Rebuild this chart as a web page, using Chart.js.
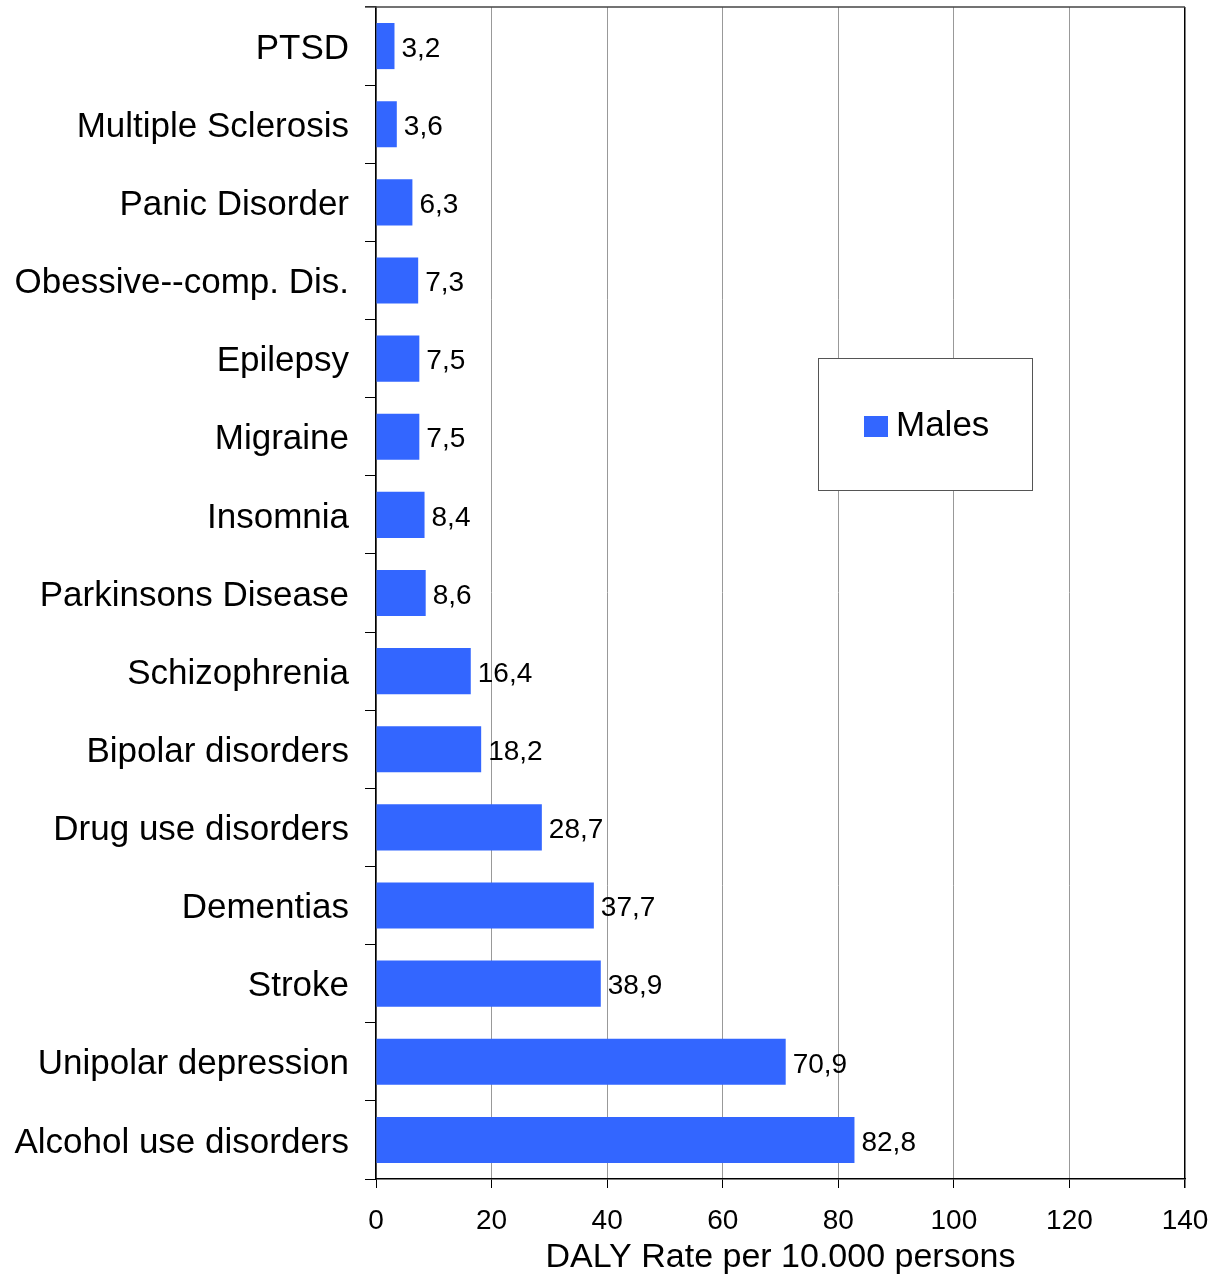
<!DOCTYPE html>
<html lang="en">
<head>
    <meta charset="UTF-8">
    <title>DALY Rate - Males</title>
    <script src="https://cdn.jsdelivr.net/npm/chart.js"></script>
    <style>
        body {
            margin: 0;
            background: #ffffff;
        }

        .chart-box {
            width: 1212px;
            height: 1278px;
        }
    </style>
</head>
<body>
    <div class="chart-box">
        <canvas id="dalyChart" width="1212" height="1278"></canvas>
    </div>

    <script>
        // data, top to bottom
        const diseases = [
            'PTSD', 'Multiple Sclerosis', 'Panic Disorder', 'Obessive--comp. Dis.', 'Epilepsy',
            'Migraine', 'Insomnia', 'Parkinsons Disease', 'Schizophrenia', 'Bipolar disorders',
            'Drug use disorders', 'Dementias', 'Stroke', 'Unipolar depression', 'Alcohol use disorders'
        ];
        const malesRate = [3.2, 3.6, 6.3, 7.3, 7.5, 7.5, 8.4, 8.6, 16.4, 18.2, 28.7, 37.7, 38.9, 70.9, 82.8];
        const xTicks = [0, 20, 40, 60, 80, 100, 120, 140];

        const barColor = '#3366ff';
        const fontFamily = '"Liberation Sans", Arial, sans-serif';

        // value labels like "3,2" at the end of every bar
        const valueLabels = {
            id: 'valueLabels',
            afterDatasetsDraw(chart) {
                const ctx = chart.ctx;
                const meta = chart.getDatasetMeta(0);
                ctx.save();
                ctx.font = '28px ' + fontFamily;
                ctx.fillStyle = '#000';
                ctx.textBaseline = 'middle';
                ctx.textAlign = 'left';
                meta.data.forEach((bar, i) => {
                    const txt = malesRate[i].toFixed(1).replace('.', ',');
                    ctx.fillText(txt, bar.x + 7, bar.y + 3);
                });
                ctx.restore();
            }
        };

        // top border line and the boxed legend inside the plot
        const frameAndLegend = {
            id: 'frameAndLegend',
            afterDraw(chart) {
                const ctx = chart.ctx;
                const area = chart.chartArea;
                ctx.save();
                ctx.strokeStyle = '#444';
                ctx.lineWidth = 1.5;
                ctx.beginPath();
                ctx.moveTo(area.left - 11, area.top);
                ctx.lineTo(area.right, area.top);
                ctx.stroke();

                // legend box
                ctx.fillStyle = '#fff';
                ctx.fillRect(818, 358, 214, 132);
                ctx.strokeStyle = '#555';
                ctx.lineWidth = 1;
                ctx.strokeRect(818.5, 358.5, 214, 132);
                ctx.fillStyle = chart.data.datasets[0].backgroundColor;
                ctx.fillRect(864, 416, 24, 21);
                ctx.fillStyle = '#000';
                ctx.font = '35px ' + fontFamily;
                ctx.textBaseline = 'middle';
                ctx.fillText(chart.data.datasets[0].label, 896, 426);
                ctx.restore();
            }
        };

        const ctx = document.getElementById('dalyChart').getContext('2d');
        const chart = new Chart(ctx, {
            type: 'bar',
            data: {
                labels: diseases,
                datasets: [{
                    label: 'Males',
                    data: malesRate,
                    backgroundColor: barColor,
                    borderWidth: 0,
                    barPercentage: 0.59,
                    categoryPercentage: 1
                }]
            },
            options: {
                indexAxis: 'y',
                responsive: false,
                animation: false,
                layout: {
                    padding: { top: 7, right: 27, left: 0, bottom: 0 }
                },
                scales: {
                    x: {
                        min: 0,
                        max: 140,
                        afterBuildTicks(scale) {
                            scale.ticks = xTicks.map(v => ({ value: v }));
                        },
                        afterFit(scale) {
                            scale.height = 99;
                            scale.paddingLeft = 0;
                            scale.paddingRight = 0;
                        },
                        grid: {
                            color: c => (c.tick && c.tick.value === 140 ? '#000' : '#999'),
                            lineWidth: c => (c.tick && c.tick.value === 140 ? 1.5 : 1),
                            tickColor: '#000',
                            tickLength: 9
                        },
                        border: { color: '#000', width: 1.5 },
                        ticks: {
                            color: '#000',
                            padding: 16,
                            maxRotation: 0,
                            font: { size: 28, family: fontFamily }
                        },
                        title: {
                            display: true,
                            text: 'DALY Rate per 10.000 persons',
                            color: '#000',
                            padding: { top: 0, bottom: 0 },
                            font: { size: 34, family: fontFamily }
                        }
                    },
                    y: {
                        afterFit(scale) {
                            scale.width = 376;
                            scale.paddingTop = 0;
                            scale.paddingBottom = 0;
                        },
                        grid: {
                            offset: true,
                            drawOnChartArea: false,
                            color: '#000',
                            tickLength: 11
                        },
                        border: { color: '#000', width: 1.5 },
                        ticks: {
                            color: '#000',
                            padding: 16,
                            labelOffset: 3,
                            font: { size: 35, family: fontFamily }
                        }
                    }
                },
                plugins: {
                    legend: { display: false },
                    tooltip: { enabled: false }
                }
            },
            plugins: [valueLabels, frameAndLegend]
        });
    </script>
</body>
</html>
